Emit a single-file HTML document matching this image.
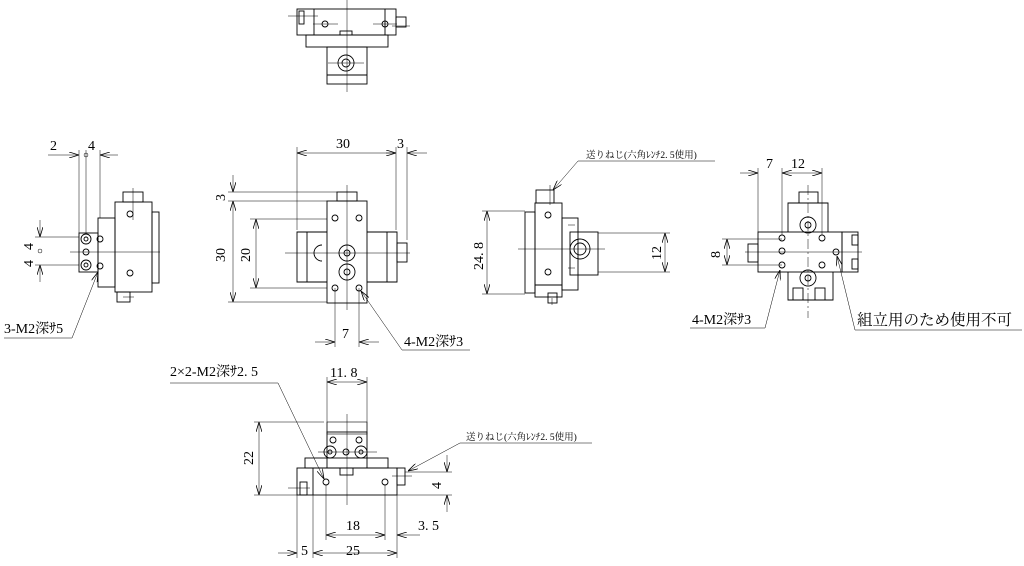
<!DOCTYPE html>
<html><head><meta charset="utf-8"><style>
html,body{margin:0;padding:0;background:#fff;}
svg{display:block;}
text{font-family:"Liberation Serif","Noto Serif CJK JP","Noto Sans CJK JP",serif;fill:#000;}
</style></head><body>
<svg width="1024" height="566" viewBox="0 0 1024 566" xmlns="http://www.w3.org/2000/svg">
<defs>
<marker id="a" viewBox="0 0 10 6" refX="10" refY="3" markerWidth="10" markerHeight="6" orient="auto-start-reverse" markerUnits="userSpaceOnUse"><path d="M0,0 L10,3 L0,6" fill="none" stroke="#000" stroke-width="0.8"/></marker>
</defs>
<g fill="none" stroke="#000" stroke-width="0.9">
<!-- TOP VIEW -->
<rect x="297" y="9" width="99" height="26"/>
<line x1="314" y1="9" x2="314" y2="35"/><line x1="385" y1="9" x2="385" y2="35"/>
<rect x="299" y="11" width="5" height="13"/>
<rect x="396" y="17" width="10" height="10"/>
<circle cx="325" cy="24" r="3"/><circle cx="385" cy="24" r="3"/>
<rect x="340" y="31" width="12" height="4"/>
<rect x="306" y="35" width="82" height="12"/>
<rect x="327" y="47" width="40" height="37"/>
<line x1="327" y1="75" x2="367" y2="75"/>
<circle cx="346" cy="63" r="8"/><circle cx="346" cy="63" r="4"/>
</g>
<g fill="none" stroke="#000" stroke-width="0.5">
<line x1="347" y1="0" x2="347" y2="92"/>
<line x1="288" y1="16" x2="318" y2="16"/><line x1="392" y1="26" x2="410" y2="26"/>
<line x1="313" y1="24" x2="338" y2="24"/><line x1="373" y1="24" x2="397" y2="24"/>
<line x1="328" y1="63" x2="364" y2="63"/>
</g>

<!-- FRONT (CENTER) VIEW -->
<g fill="none" stroke="#000" stroke-width="0.9">
<rect x="337" y="192" width="20" height="9"/>
<rect x="327" y="201" width="40" height="102"/>
<path d="M327,232 H297 V282 H327"/><path d="M367,232 H397 V282 H367"/>
<line x1="307" y1="232" x2="307" y2="282"/><line x1="387" y1="232" x2="387" y2="282"/>
<rect x="397" y="243" width="10" height="19"/>
<path d="M322,245 A8,8 0 0,0 322,261"/>
<circle cx="335" cy="218" r="3"/><circle cx="359" cy="218" r="3"/>
<circle cx="335" cy="288" r="3"/><circle cx="359" cy="288" r="3"/>
<circle cx="347" cy="253" r="8"/><circle cx="347" cy="253" r="3"/>
<circle cx="347" cy="272" r="8"/><circle cx="347" cy="272" r="3"/>
</g>
<g fill="none" stroke="#000" stroke-width="0.5">
<line x1="347" y1="185" x2="347" y2="310"/>
<line x1="285" y1="253" x2="410" y2="253"/>
<line x1="297" y1="147" x2="297" y2="230"/><line x1="396" y1="147" x2="396" y2="230"/><line x1="407" y1="147" x2="407" y2="240"/>
<line x1="297" y1="153" x2="396" y2="153" marker-start="url(#a)" marker-end="url(#a)"/>
<line x1="407" y1="153" x2="427" y2="153" marker-start="url(#a)"/><line x1="396" y1="153" x2="386" y2="153"/>
<line x1="228" y1="192" x2="337" y2="192"/><line x1="228" y1="201" x2="327" y2="201"/><line x1="228" y1="302" x2="327" y2="302"/>
<line x1="233" y1="175" x2="233" y2="192" marker-end="url(#a)"/>
<line x1="233" y1="201" x2="233" y2="302" marker-start="url(#a)" marker-end="url(#a)"/>
<line x1="250" y1="219" x2="327" y2="219"/><line x1="250" y1="288" x2="327" y2="288"/>
<line x1="256" y1="219" x2="256" y2="288" marker-start="url(#a)" marker-end="url(#a)"/>
<line x1="335" y1="288" x2="335" y2="347"/><line x1="359" y1="288" x2="359" y2="347"/>
<line x1="315" y1="342" x2="335" y2="342" marker-end="url(#a)"/><line x1="379" y1="342" x2="359" y2="342" marker-end="url(#a)"/>
<line x1="402" y1="350" x2="361" y2="291" marker-end="url(#a)"/><line x1="402" y1="350" x2="470" y2="350"/>
</g>
<text x="336" y="148" font-size="14">30</text>
<text x="397" y="148" font-size="14">3</text>
<text x="225" y="201" font-size="14" transform="rotate(-90 225 201)">3</text>
<text x="225" y="262" font-size="14" transform="rotate(-90 225 262)">30</text>
<text x="250" y="262" font-size="14" transform="rotate(-90 250 262)">20</text>
<text x="342" y="338" font-size="14">7</text>
<text x="404" y="346" font-size="14">4-M2深ｻ3</text>

<!-- LEFT VIEW -->
<g fill="none" stroke="#000" stroke-width="0.9">
<rect x="123" y="192" width="20" height="10"/>
<rect x="115" y="202" width="37" height="90"/>
<rect x="152" y="212" width="7" height="71"/>
<rect x="98" y="218" width="17" height="69"/>
<rect x="79" y="233" width="19" height="39"/>
<rect x="117" y="292" width="13" height="10"/>
<circle cx="86" cy="239" r="5"/><circle cx="86" cy="239" r="2"/>
<circle cx="86" cy="252" r="3"/>
<circle cx="86" cy="265" r="5"/><circle cx="86" cy="265" r="2"/>
<circle cx="100" cy="239" r="3"/><circle cx="100" cy="266" r="3"/>
<circle cx="130" cy="214" r="3"/><circle cx="130" cy="273" r="3"/>
</g>
<g fill="none" stroke="#000" stroke-width="0.5">
<line x1="133" y1="188" x2="133" y2="220"/><line x1="123" y1="297" x2="134" y2="297"/>
<line x1="70" y1="252" x2="160" y2="252"/>
<line x1="79" y1="150" x2="79" y2="233"/><line x1="86" y1="150" x2="86" y2="233"/><line x1="100" y1="150" x2="100" y2="218"/>
<line x1="48" y1="155" x2="79" y2="155" marker-end="url(#a)"/><line x1="118" y1="155" x2="100" y2="155" marker-end="url(#a)"/>
<circle cx="86" cy="155" r="2"/>
<line x1="35" y1="237" x2="79" y2="237"/><line x1="35" y1="265" x2="79" y2="265"/>
<line x1="40" y1="220" x2="40" y2="237" marker-end="url(#a)"/><line x1="40" y1="282" x2="40" y2="265" marker-end="url(#a)"/>
<circle cx="40" cy="251" r="2"/>
<line x1="72" y1="338" x2="98" y2="272" marker-end="url(#a)"/><line x1="4" y1="338" x2="72" y2="338"/>
</g>
<text x="50" y="150" font-size="14">2</text>
<text x="88" y="150" font-size="14">4</text>
<text x="33" y="250" font-size="14" transform="rotate(-90 33 250)">4</text>
<text x="33" y="267" font-size="14" transform="rotate(-90 33 267)">4</text>
<text x="4" y="333" font-size="14">3-M2深ｻ5</text>

<!-- RIGHT SIDE VIEW -->
<g fill="none" stroke="#000" stroke-width="0.9">
<rect x="536" y="190" width="18" height="13"/>
<rect x="535" y="203" width="27" height="82"/>
<rect x="525" y="212" width="10" height="81"/>
<rect x="535" y="285" width="27" height="12"/>
<rect x="548" y="293" width="9" height="10"/>
<rect x="562" y="218" width="16" height="72"/>
<rect x="570" y="232" width="28" height="43"/>
<circle cx="580" cy="249" r="10"/><circle cx="580" cy="249" r="6"/>
<circle cx="548" cy="215" r="3"/><circle cx="548" cy="272" r="3"/>
</g>
<g fill="none" stroke="#000" stroke-width="0.5">
<line x1="518" y1="249" x2="605" y2="249"/>
<line x1="550" y1="185" x2="550" y2="205"/><line x1="552" y1="298" x2="552" y2="305"/>
<line x1="568" y1="225" x2="575" y2="225"/><line x1="568" y1="268" x2="575" y2="268"/>
<line x1="482" y1="211" x2="525" y2="211"/><line x1="482" y1="294" x2="525" y2="294"/>
<line x1="487" y1="211" x2="487" y2="294" marker-start="url(#a)" marker-end="url(#a)"/>
<line x1="598" y1="233" x2="670" y2="233"/><line x1="598" y1="272" x2="670" y2="272"/>
<line x1="665" y1="233" x2="665" y2="272" marker-start="url(#a)" marker-end="url(#a)"/>
<line x1="578" y1="161" x2="553" y2="190" marker-end="url(#a)"/><line x1="578" y1="161" x2="715" y2="161"/>
</g>
<text x="483" y="270" font-size="14" transform="rotate(-90 483 270)">24. 8</text>
<text x="661" y="260" font-size="14" transform="rotate(-90 661 260)">12</text>
<text x="586" y="158" font-size="9.5">送りねじ(六角ﾚﾝﾁ2. 5使用)</text>

<!-- FAR RIGHT VIEW -->
<g fill="none" stroke="#000" stroke-width="0.9">
<rect x="799" y="192" width="19" height="11"/>
<path d="M788,232 V203 H828 V232"/>
<rect x="758" y="232" width="84" height="40"/>
<rect x="842" y="232" width="16" height="40"/>
<rect x="852" y="235" width="6" height="10"/><rect x="852" y="259" width="6" height="10"/>
<rect x="748" y="244" width="10" height="18"/>
<path d="M788,272 V300 H833 V272"/>
<rect x="793" y="288" width="10" height="12"/><rect x="815" y="288" width="10" height="12"/>
<circle cx="782" cy="238" r="3"/><circle cx="782" cy="251" r="3"/><circle cx="782" cy="265" r="3"/>
<circle cx="822" cy="238" r="3"/><circle cx="822" cy="265" r="3"/><circle cx="836" cy="252" r="3"/>
<circle cx="808" cy="225" r="8"/><circle cx="808" cy="225" r="3"/>
<circle cx="808" cy="278" r="8"/><circle cx="808" cy="278" r="3"/>
</g>
<g fill="none" stroke="#000" stroke-width="0.5">
<line x1="808" y1="185" x2="808" y2="318" stroke-dasharray="10,3,2,3"/>
<line x1="745" y1="252" x2="862" y2="252"/>
<line x1="758" y1="168" x2="758" y2="232"/><line x1="782" y1="168" x2="782" y2="235"/><line x1="822" y1="168" x2="822" y2="235"/>
<line x1="740" y1="173" x2="758" y2="173" marker-end="url(#a)"/>
<line x1="782" y1="173" x2="822" y2="173" marker-start="url(#a)" marker-end="url(#a)"/>
<line x1="722" y1="239" x2="782" y2="239"/><line x1="722" y1="265" x2="782" y2="265"/>
<line x1="727" y1="239" x2="727" y2="265" marker-start="url(#a)" marker-end="url(#a)"/>
<line x1="765" y1="328" x2="780" y2="270" marker-end="url(#a)"/><line x1="690" y1="328" x2="765" y2="328"/>
<line x1="855" y1="330" x2="837" y2="256" marker-end="url(#a)"/><line x1="855" y1="330" x2="1022" y2="330"/>
</g>
<text x="766" y="168" font-size="14">7</text>
<text x="791" y="168" font-size="14">12</text>
<text x="720" y="258" font-size="14" transform="rotate(-90 720 258)">8</text>
<text x="692" y="324" font-size="14">4-M2深ｻ3</text>
<text x="857" y="325" font-size="15.5">組立用のため使用不可</text>

<!-- BOTTOM VIEW -->
<g fill="none" stroke="#000" stroke-width="0.9">
<rect x="327" y="422" width="40" height="12" stroke-width="0.6"/>
<rect x="327" y="432" width="40" height="36"/>
<rect x="305" y="458" width="83" height="10"/>
<rect x="297" y="468" width="100" height="27"/>
<rect x="340" y="468" width="13" height="7"/>
<rect x="300" y="482" width="7" height="13"/>
<line x1="313" y1="468" x2="313" y2="495"/>
<rect x="397" y="468" width="8" height="17"/>
<circle cx="333" cy="440" r="3"/><circle cx="359" cy="440" r="3"/>
<circle cx="330" cy="452" r="6"/><circle cx="330" cy="452" r="2"/>
<circle cx="346" cy="452" r="3"/>
<circle cx="361" cy="452" r="6"/><circle cx="361" cy="452" r="2"/>
<circle cx="326" cy="482" r="3"/><circle cx="385" cy="482" r="3"/>
</g>
<g fill="none" stroke="#000" stroke-width="0.5">
<line x1="347" y1="414" x2="347" y2="505"/>
<line x1="318" y1="452" x2="377" y2="452"/>
<line x1="288" y1="488" x2="310" y2="488"/><line x1="392" y1="476" x2="412" y2="476"/>
<line x1="327" y1="377" x2="327" y2="432"/><line x1="367" y1="377" x2="367" y2="432"/>
<line x1="327" y1="382" x2="367" y2="382" marker-start="url(#a)" marker-end="url(#a)"/>
<line x1="254" y1="422" x2="324" y2="422"/><line x1="254" y1="495" x2="297" y2="495"/>
<line x1="259" y1="422" x2="259" y2="495" marker-start="url(#a)" marker-end="url(#a)"/>
<line x1="326" y1="485" x2="326" y2="540"/><line x1="385" y1="485" x2="385" y2="540"/>
<line x1="297" y1="495" x2="297" y2="558"/><line x1="313" y1="495" x2="313" y2="558"/><line x1="397" y1="495" x2="397" y2="558"/>
<line x1="326" y1="535" x2="385" y2="535" marker-start="url(#a)" marker-end="url(#a)"/>
<line x1="420" y1="535" x2="397" y2="535" marker-end="url(#a)"/>
<line x1="278" y1="553" x2="297" y2="553" marker-end="url(#a)"/>
<line x1="313" y1="553" x2="397" y2="553" marker-start="url(#a)" marker-end="url(#a)"/>
<line x1="405" y1="472" x2="452" y2="472"/><line x1="397" y1="495" x2="452" y2="495"/>
<line x1="447" y1="455" x2="447" y2="472" marker-end="url(#a)"/><line x1="447" y1="512" x2="447" y2="495" marker-end="url(#a)"/>
<line x1="278" y1="383" x2="324" y2="479" marker-end="url(#a)"/><line x1="170" y1="383" x2="278" y2="383"/>
<line x1="460" y1="443" x2="408" y2="471" marker-end="url(#a)"/><line x1="460" y1="443" x2="592" y2="443"/>
</g>
<text x="330" y="377" font-size="14">11. 8</text>
<text x="253" y="465" font-size="14" transform="rotate(-90 253 465)">22</text>
<text x="346" y="530" font-size="14">18</text>
<text x="418" y="530" font-size="14">3. 5</text>
<text x="301" y="555" font-size="14">5</text>
<text x="346" y="555" font-size="14">25</text>
<text x="441" y="489" font-size="14" transform="rotate(-90 441 489)">4</text>
<text x="170" y="376" font-size="14">2×2-M2深ｻ2. 5</text>
<text x="466" y="440" font-size="9.5">送りねじ(六角ﾚﾝﾁ2. 5使用)</text>
</svg>
</body></html>
